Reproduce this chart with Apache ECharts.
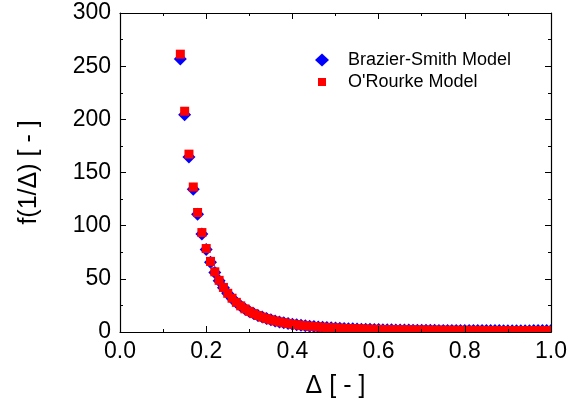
<!DOCTYPE html>
<html><head><meta charset="utf-8">
<script src="https://cdn.jsdelivr.net/npm/echarts@6/dist/echarts.min.js"></script>
<style>html,body{margin:0;padding:0;background:#fff}#c{width:570px;height:410px}</style>
</head><body><div id="c"></div>
<script>
// Δ values (size ratio)
const delta = [0.14,0.15,0.16,0.17,0.18,0.19,0.20,0.21,0.22,0.23,0.24,0.25,0.26,0.27,0.28,0.29,0.30,0.31,0.32,0.33,0.34,0.35,0.36,0.37,0.38,0.39,0.40,0.41,0.42,0.43,0.44,0.45,0.46,0.47,0.48,0.49,0.50,0.51,0.52,0.53,0.54,0.55,0.56,0.57,0.58,0.59,0.60,0.61,0.62,0.63,0.64,0.65,0.66,0.67,0.68,0.69,0.70,0.71,0.72,0.73,0.74,0.75,0.76,0.77,0.78,0.79,0.80,0.81,0.82,0.83,0.84,0.85,0.86,0.87,0.88,0.89,0.90,0.91,0.92,0.93,0.94,0.95,0.96,0.97,0.98,0.99,1.00];
// Brazier-Smith model values
const brazierSmith = [256.8,204.2,164.5,134.3,110.8,92.2,77.5,65.6,56.0,48.1,41.6,36.16,31.6,27.74,24.48,21.73,19.35,17.30,15.54,13.99,12.65,11.46,10.42,9.52,8.71,8.00,7.37,6.81,6.29,5.84,5.43,5.06,4.73,4.42,4.16,3.91,3.69,3.48,3.29,3.13,2.97,2.83,2.69,2.58,2.47,2.37,2.27,2.18,2.11,2.04,1.96,1.90,1.85,1.80,1.74,1.70,1.66,1.63,1.59,1.56,1.52,1.50,1.48,1.45,1.42,1.40,1.38,1.37,1.36,1.35,1.34,1.33,1.32,1.31,1.30,1.29,1.29,1.29,1.29,1.29,1.29,1.29,1.30,1.30,1.30,1.31,1.31];
// O'Rourke model values
const oRourke = [261.27,207.63,167.27,136.38,112.39,93.52,78.5,66.41,56.60,48.56,41.92,36.4,31.78,27.88,24.58,21.77,19.37,17.30,15.52,13.97,12.62,11.45,10.41,9.51,8.71,8.00,7.375,6.82,6.32,5.88,5.48,5.12,4.80,4.51,4.25,4.01,3.8,3.61,3.43,3.27,3.12,2.99,2.86,2.75,2.65,2.55,2.46,2.38,2.31,2.24,2.17,2.11,2.06,2.01,1.96,1.92,1.87,1.84,1.80,1.77,1.73,1.70,1.68,1.65,1.62,1.60,1.58,1.56,1.54,1.52,1.50,1.48,1.46,1.45,1.43,1.42,1.41,1.39,1.38,1.37,1.36,1.35,1.34,1.33,1.32,1.31,1.30];
const seriesNames = ['Brazier-Smith Model', "O'Rourke Model"];
const xTitle = 'Δ [ - ]';
const yTitle = 'f(1/Δ) [ - ]';

const FONT = '"Liberation Sans", Arial, sans-serif';
const axisLine = {show: true, onZero: false, lineStyle: {color: '#000', width: 1.2}};
const tick = {show: true, inside: true, length: 6, lineStyle: {color: '#000'}};
const minor = {show: true, splitNumber: 2, length: 3, lineStyle: {color: '#000'}};
const chart = echarts.init(document.getElementById('c'), null, {renderer: 'canvas'});
const pairs = (ys) => delta.map((d, i) => [d, ys[i]]);

const L = 120, R = 19, T = 13, B = 78, W = 570, H = 410;

chart.setOption({
  animation: false,
  backgroundColor: '#fff',
  grid: {left: L, right: R, top: T, bottom: B},
  legend: [
    {data: [{name: seriesNames[0], icon: 'diamond'}], orient: 'vertical', left: 315, top: 51, padding: 0,
     itemWidth: 14, itemHeight: 13,
     textStyle: {fontFamily: FONT, fontSize: 18, color: '#000', padding: [0, 0, 0, 14]}},
    {data: [{name: seriesNames[1], icon: 'rect'}], orient: 'vertical', left: 318, top: 73, padding: 0,
     itemWidth: 8, itemHeight: 8,
     textStyle: {fontFamily: FONT, fontSize: 18, color: '#000', padding: [0, 0, 0, 17]}}
  ],
  // white masks that clip marker overflow outside the plot frame
  graphic: [
    {type: 'rect', z: 50, silent: true, shape: {x: 0, y: H - B + 0.7, width: W, height: 5}, style: {fill: '#fff'}},
    {type: 'rect', z: 50, silent: true, shape: {x: W - R + 0.7, y: 0, width: R, height: H - B + 6}, style: {fill: '#fff'}}
  ],
  xAxis: [
    {type: 'value', min: 0, max: 1, interval: 0.2, position: 'bottom', z: 60,
     axisLine: axisLine, axisTick: tick, minorTick: minor, splitLine: {show: false},
     axisLabel: {fontFamily: FONT, fontSize: 23, color: '#000', margin: 8, formatter: v => v.toFixed(1)},
     name: xTitle, nameLocation: 'middle', nameGap: 42,
     nameTextStyle: {fontFamily: FONT, fontSize: 25, color: '#000'}},
    {type: 'value', min: 0, max: 1, interval: 0.2, position: 'top', z: 60,
     axisLine: axisLine, axisTick: tick, minorTick: minor, splitLine: {show: false}, axisLabel: {show: false}}
  ],
  yAxis: [
    {type: 'value', min: 0, max: 300, interval: 50, position: 'left', z: 60,
     axisLine: axisLine, axisTick: tick, minorTick: minor, splitLine: {show: false},
     axisLabel: {fontFamily: FONT, fontSize: 23, color: '#000', margin: 9},
     name: yTitle, nameLocation: 'middle', nameGap: 78, nameRotate: 90,
     nameTextStyle: {fontFamily: FONT, fontSize: 25, color: '#000'}},
    {type: 'value', min: 0, max: 300, interval: 50, position: 'right', z: 60,
     axisLine: axisLine, axisTick: tick, minorTick: minor, splitLine: {show: false}, axisLabel: {show: false}}
  ],
  series: [
    {name: seriesNames[0], type: 'scatter', symbol: 'diamond', symbolSize: 13,
     itemStyle: {color: '#0000ff', opacity: 1}, data: pairs(brazierSmith), z: 2},
    {name: seriesNames[1], type: 'scatter', symbol: 'rect', symbolSize: 9,
     itemStyle: {color: '#ff0000', opacity: 1}, data: pairs(oRourke), z: 3}
  ]
});
</script></body></html>
